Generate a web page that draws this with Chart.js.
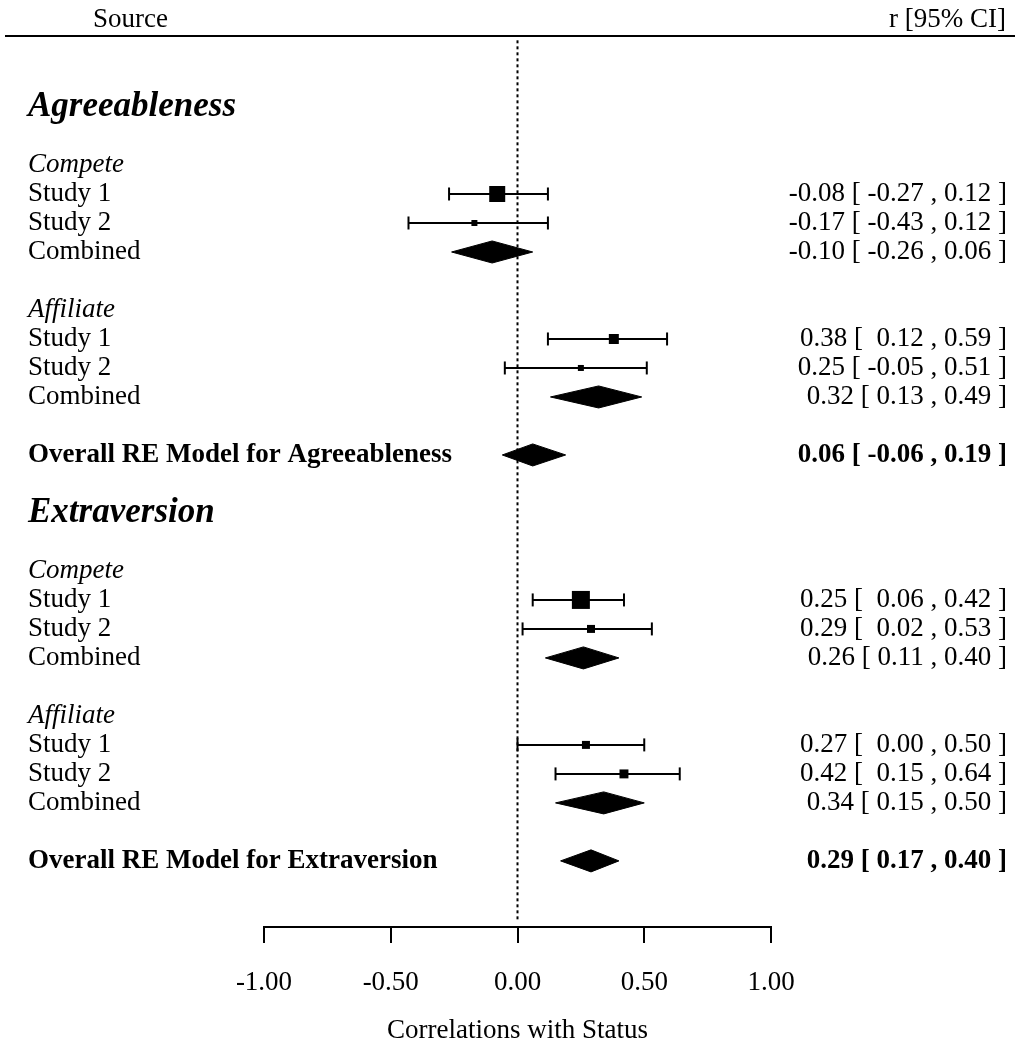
<!DOCTYPE html>
<html lang="es">
<head>
<meta charset="utf-8">
<title>Forest plot - Correlations with Status</title>
<script src="https://cdn.jsdelivr.net/npm/chart.js@4.4.1/dist/chart.umd.min.js"></script>
<style>
  html, body { margin: 0; padding: 0; background: #fff; }
  canvas { display: block; }
</style>
</head>
<body>
<canvas id="grafico" width="1015" height="1043"></canvas>
<script>
// filas del gráfico (posición en unidades de fila, 0 = arriba)
const etiquetasFilas = ['Agreeableness', 'Compete', 'Study 1', 'Study 2', 'Combined', 'Affiliate', 'Study 1', 'Study 2', 'Combined',
    'Overall RE Model for Agreeableness', 'Extraversion', 'Compete', 'Study 1', 'Study 2', 'Combined', 'Affiliate', 'Study 1', 'Study 2', 'Combined',
    'Overall RE Model for Extraversion']
const posicionFilas = [0, 2, 3, 4, 5, 7, 8, 9, 10, 12, 14, 16, 17, 18, 19, 21, 22, 23, 24, 26]
const tipoFilas = ['seccion', 'sub', 'normal', 'normal', 'normal', 'sub', 'normal', 'normal', 'normal', 'total',
    'seccion', 'sub', 'normal', 'normal', 'normal', 'sub', 'normal', 'normal', 'normal', 'total']

// estudios individuales
const filasEstudios = [3, 4, 8, 9, 17, 18, 22, 23]
const estimacionEstudios = [-0.08, -0.17, 0.38, 0.25, 0.25, 0.29, 0.27, 0.42]
const inferiorEstudios = [-0.27, -0.43, 0.12, -0.05, 0.06, 0.02, 0.00, 0.15]
const superiorEstudios = [0.12, 0.12, 0.59, 0.51, 0.42, 0.53, 0.50, 0.64]
const pesoEstudios = [64, 9, 25, 9, 81, 16, 16, 20]

// efectos combinados y modelos globales
const filasCombinadas = [5, 10, 12, 19, 24, 26]
const estimacionCombinadas = [-0.10, 0.32, 0.06, 0.26, 0.34, 0.29]
const inferiorCombinadas = [-0.26, 0.13, -0.06, 0.11, 0.15, 0.17]
const superiorCombinadas = [0.06, 0.49, 0.19, 0.40, 0.50, 0.40]

const ticksX = [-1, -0.5, 0, 0.5, 1]

// estilos
const familia = '"Liberation Serif", "Times New Roman", serif'
const fuentes = {
    seccion: `bold italic 35px ${familia}`,
    sub: `italic 27px ${familia}`,
    normal: `27px ${familia}`,
    total: `bold 27px ${familia}`
}
const limitesY = { min: -2.38, max: 28.28 }
const medioAltoDiamante = 0.38

const formatoNum = v => v.toFixed(2)
const textoIntervalo = (est, inf, sup, relleno) => {
    const infTxt = relleno && inf >= 0 ? ' ' + formatoNum(inf) : formatoNum(inf)
    return `${formatoNum(est)} [ ${infTxt} , ${formatoNum(sup)} ]`
}

const datasets = []

// cuadrados de los estudios (primero = encima)
datasets.push({
    data: filasEstudios.map((fila, i) => ({ x: estimacionEstudios[i], y: fila })),
    showLine: false,
    pointStyle: 'rect',
    pointRadius: pesoEstudios.map(p => Math.sqrt(p) * Math.SQRT2),
    pointBackgroundColor: '#000',
    pointBorderWidth: 0
})

// intervalos de confianza con sus topes
filasEstudios.forEach((fila, i) => {
    datasets.push({
        data: [{ x: inferiorEstudios[i], y: fila }, { x: superiorEstudios[i], y: fila }],
        borderColor: '#000',
        borderWidth: 2,
        pointStyle: 'line',
        pointRotation: 90,
        pointRadius: 6.5,
        pointBorderColor: '#000',
        pointBorderWidth: 2,
        fill: false
    })
})

// diamantes: mitad superior e inferior rellenas hasta la fila
filasCombinadas.forEach((fila, i) => {
    [-1, 1].forEach(lado => {
        datasets.push({
            data: [
                { x: inferiorCombinadas[i], y: fila },
                { x: estimacionCombinadas[i], y: fila + lado * medioAltoDiamante },
                { x: superiorCombinadas[i], y: fila }
            ],
            borderColor: '#000',
            borderWidth: 1,
            backgroundColor: '#000',
            pointRadius: 0,
            fill: { value: fila }
        })
    })
})

// línea de referencia punteada en 0
datasets.push({
    data: [{ x: 0, y: limitesY.min + 0.08 }, { x: 0, y: limitesY.max - 0.25 }],
    borderColor: '#000',
    borderWidth: 2,
    borderDash: [3, 3],
    pointRadius: 0,
    fill: false
})

// textos a izquierda y derecha, cabecera y línea superior
const textoForest = {
    id: 'textoForest',
    afterDraw(chart) {
        const { ctx } = chart
        const escalaY = chart.scales.y
        ctx.save()
        ctx.fillStyle = '#000'
        ctx.textBaseline = 'middle'

        // cabecera
        const yCabecera = escalaY.getPixelForValue(-3.02)
        ctx.font = `27px ${familia}`
        ctx.textAlign = 'left'
        ctx.fillText('Source', 93, yCabecera)
        ctx.textAlign = 'right'
        ctx.fillText('r [95% CI]', 1006, yCabecera)

        const yLinea = escalaY.getPixelForValue(-2.45)
        ctx.strokeStyle = '#000'
        ctx.lineWidth = 2
        ctx.beginPath()
        ctx.moveTo(5, yLinea)
        ctx.lineTo(1015, yLinea)
        ctx.stroke()

        // etiquetas de filas
        ctx.textAlign = 'left'
        etiquetasFilas.forEach((texto, i) => {
            ctx.font = fuentes[tipoFilas[i]]
            ctx.fillText(texto, 28, escalaY.getPixelForValue(posicionFilas[i]))
        })

        // valores r [IC 95%]
        ctx.textAlign = 'right'
        ctx.font = fuentes.normal
        filasEstudios.forEach((fila, i) => {
            const texto = textoIntervalo(estimacionEstudios[i], inferiorEstudios[i], superiorEstudios[i], true)
            ctx.fillText(texto, 1007, escalaY.getPixelForValue(fila))
        })
        filasCombinadas.forEach((fila, i) => {
            const idx = posicionFilas.indexOf(fila)
            ctx.font = tipoFilas[idx] === 'total' ? fuentes.total : fuentes.normal
            const texto = textoIntervalo(estimacionCombinadas[i], inferiorCombinadas[i], superiorCombinadas[i], false)
            ctx.fillText(texto, 1007, escalaY.getPixelForValue(fila))
        })
        ctx.restore()
    }
}

new Chart(document.getElementById('grafico'), {
    type: 'line',
    data: { datasets },
    options: {
        responsive: false,
        devicePixelRatio: 1,
        animation: false,
        events: [],
        layout: { padding: { left: 264, right: 244, top: 38, bottom: 0 } },
        plugins: {
            legend: { display: false },
            tooltip: { enabled: false }
        },
        elements: { line: { tension: 0 } },
        scales: {
            x: {
                type: 'linear',
                min: -1,
                max: 1,
                afterBuildTicks: escala => { escala.ticks = ticksX.map(v => ({ value: v })) },
                afterFit: escala => { escala.height = 116 },
                ticks: {
                    callback: v => formatoNum(v),
                    color: '#000',
                    font: { family: familia, size: 27 },
                    padding: 24,
                    maxRotation: 0,
                    autoSkip: false
                },
                grid: { drawOnChartArea: false, drawTicks: true, tickLength: 16, color: '#000', lineWidth: 2 },
                border: { display: true, color: '#000', width: 2 },
                title: {
                    display: true,
                    text: 'Correlations with Status',
                    color: '#000',
                    font: { family: familia, size: 27, lineHeight: 0.9 },
                    padding: 0
                }
            },
            y: {
                type: 'linear',
                display: false,
                reverse: true,
                min: limitesY.min,
                max: limitesY.max
            }
        }
    },
    plugins: [textoForest]
})
</script>
</body>
</html>
